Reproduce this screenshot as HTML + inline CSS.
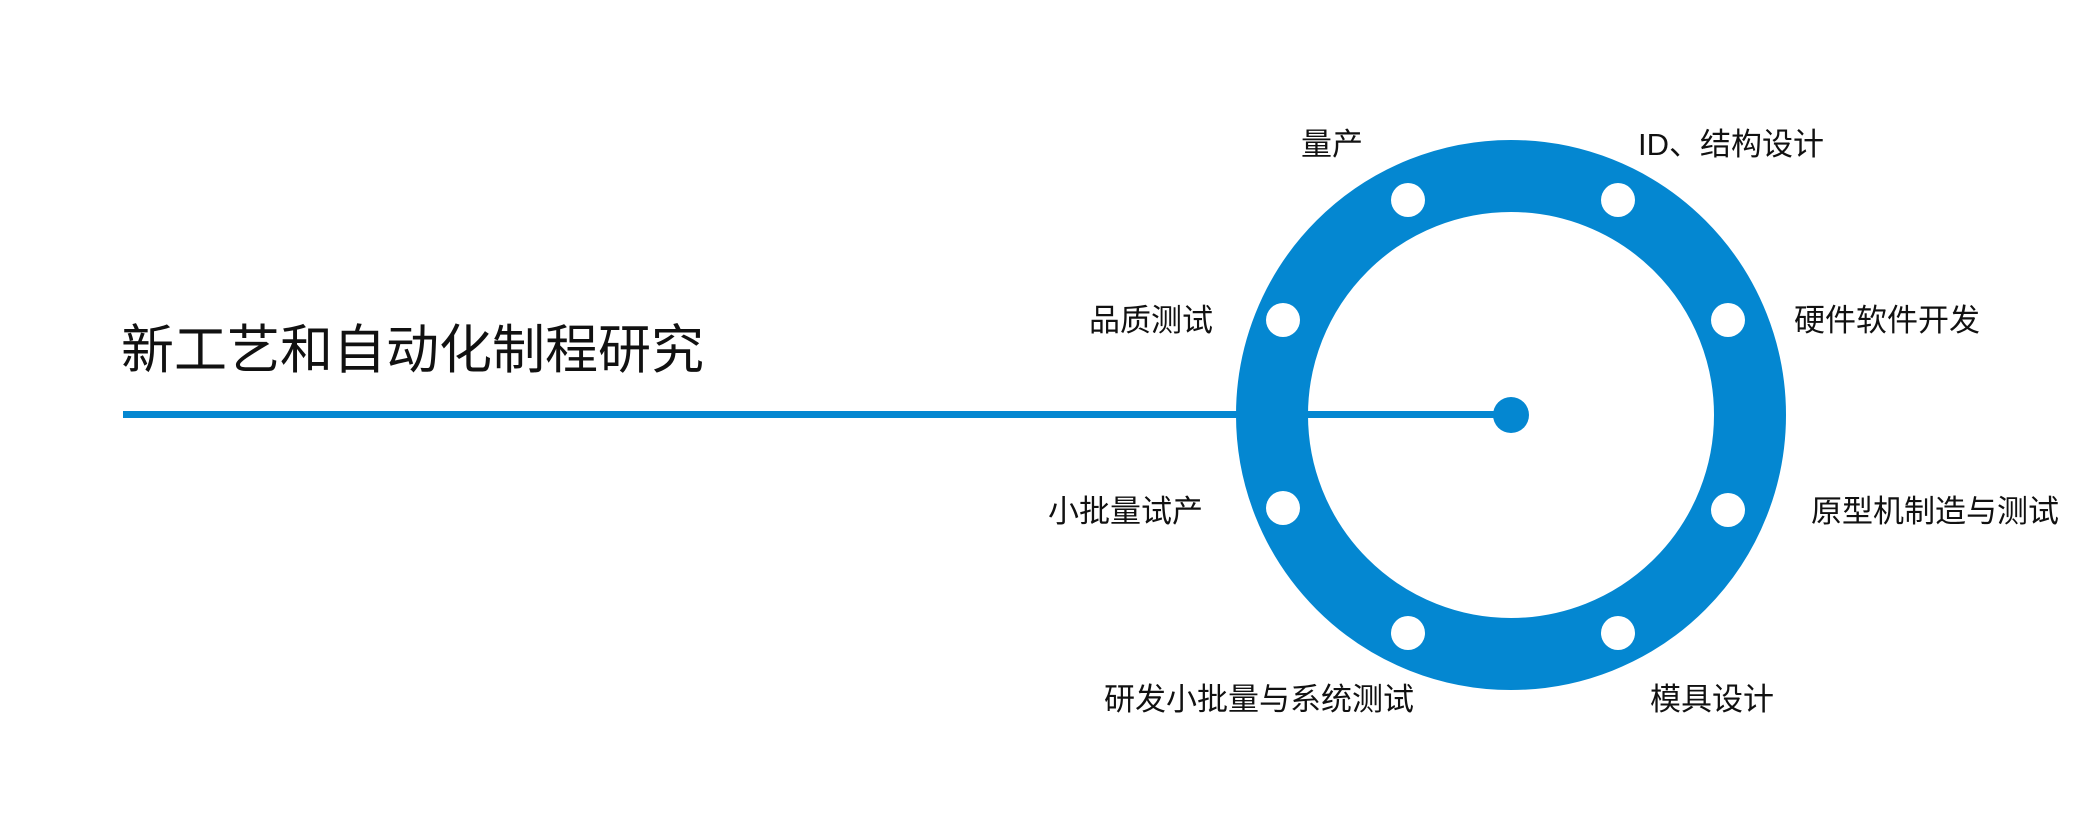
<!DOCTYPE html>
<html><head><meta charset="utf-8"><style>
html,body{margin:0;padding:0;background:#fff;}
svg{display:block;}
text{font-family:"Liberation Sans","Noto Sans CJK SC",sans-serif;fill:#111;}
</style></head><body>
<svg width="2091" height="830" viewBox="0 0 2091 830" xmlns="http://www.w3.org/2000/svg">
<rect width="2091" height="830" fill="#fff"/>
<circle cx="1511" cy="415" r="239" fill="none" stroke="#0487d1" stroke-width="72"/>
<rect x="123" y="411" width="1388" height="7" fill="#0487d1"/>
<circle cx="1511" cy="415" r="18" fill="#0487d1"/>
<g fill="#fff">
<circle cx="1408" cy="200" r="17"/><circle cx="1618" cy="200" r="17"/>
<circle cx="1283" cy="320" r="17"/><circle cx="1728" cy="320" r="17"/>
<circle cx="1283" cy="508" r="17"/><circle cx="1728" cy="510" r="17"/>
<circle cx="1408" cy="633" r="17"/><circle cx="1618" cy="633" r="17"/>
</g>
<text x="121" y="368" font-size="53">新工艺和自动化制程研究</text>
<g font-size="31">
<text x="1301" y="155">量产</text>
<text x="1638" y="155">ID、结构设计</text>
<text x="1089" y="331">品质测试</text>
<text x="1794" y="331">硬件软件开发</text>
<text x="1048" y="522">小批量试产</text>
<text x="1811" y="522">原型机制造与测试</text>
<text x="1104" y="710">研发小批量与系统测试</text>
<text x="1650" y="710">模具设计</text>
</g>
</svg>
</body></html>
